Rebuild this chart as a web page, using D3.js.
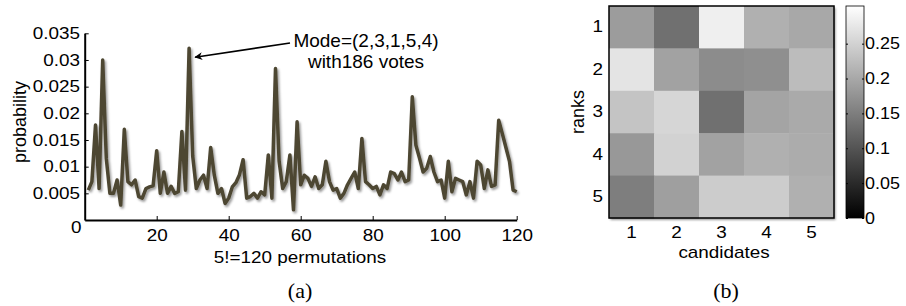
<!DOCTYPE html>
<html>
<head>
<meta charset="utf-8">
<script src="https://cdn.jsdelivr.net/npm/d3@7"></script>
<style>
	body { margin: 0; background: #fff; }
	svg { display: block; font-family: 'Liberation Sans', Arial, sans-serif; }
	.axis text { font-size: 16px; fill: #000; }
	.axis path, .axis line { stroke: #000; }
</style>
</head>
<body>
<div id="chart"></div>
<script>
// (a) probability of each of the 5! = 120 permutations
var permProbs = [
	0.0056, 0.0072, 0.0178, 0.0059, 0.0300, 0.0115, 0.0050, 0.0050, 0.0075, 0.0028,
	0.0170, 0.0072, 0.0066, 0.0075, 0.0044, 0.0041, 0.0059, 0.0062, 0.0064, 0.0130,
	0.0050, 0.0090, 0.0050, 0.0063, 0.0050, 0.0053, 0.0166, 0.0056, 0.0322, 0.0120,
	0.0059, 0.0075, 0.0084, 0.0059, 0.0136, 0.0084, 0.0050, 0.0059, 0.0031, 0.0041,
	0.0062, 0.0070, 0.0085, 0.0113, 0.0041, 0.0044, 0.0050, 0.0041, 0.0053, 0.0047,
	0.0122, 0.0041, 0.0284, 0.0110, 0.0059, 0.0072, 0.0122, 0.0019, 0.0184, 0.0066,
	0.0084, 0.0078, 0.0063, 0.0081, 0.0059, 0.0066, 0.0110, 0.0072, 0.0056, 0.0059,
	0.0041, 0.0050, 0.0066, 0.0078, 0.0090, 0.0059, 0.0153, 0.0072, 0.0066, 0.0059,
	0.0063, 0.0047, 0.0066, 0.0059, 0.0090, 0.0087, 0.0075, 0.0090, 0.0072, 0.0075,
	0.0231, 0.0140, 0.0116, 0.0090, 0.0097, 0.0119, 0.0090, 0.0072, 0.0075, 0.0041,
	0.0110, 0.0053, 0.0078, 0.0075, 0.0072, 0.0047, 0.0072, 0.0041, 0.0110, 0.0103,
	0.0059, 0.0094, 0.0063, 0.0066, 0.0187, 0.0162, 0.0136, 0.0110, 0.0056, 0.0053
]
var xTicks = [0, 20, 40, 60, 80, 100, 120]
var yTicks = [0.005, 0.01, 0.015, 0.02, 0.025, 0.03, 0.035]
var modeIndex = 29
var modeLabel = ['Mode=(2,3,1,5,4)', 'with186 votes']

// (b) rank x candidate probabilities
var ranks = [1, 2, 3, 4, 5]
var candidates = [1, 2, 3, 4, 5]
var rankProbs = [
	[0.186, 0.134, 0.285, 0.210, 0.200],
	[0.272, 0.193, 0.167, 0.170, 0.224],
	[0.234, 0.255, 0.134, 0.196, 0.203],
	[0.181, 0.250, 0.193, 0.210, 0.205],
	[0.150, 0.190, 0.243, 0.243, 0.210]
]
var colorTicks = [0, 0.05, 0.1, 0.15, 0.2, 0.25]

var stretch = 1.18
var serif = "'Liberation Serif', 'DejaVu Serif', serif"

var svg = d3.select('#chart').append('svg')
	.attr('width', 906)
	.attr('height', 306)

var defs = svg.append('defs')
defs.append('filter').attr('id', 'shadow')
	.attr('x', '-5%').attr('y', '-5%').attr('width', '110%').attr('height', '115%')
	.append('feDropShadow')
	.attr('dx', 1.5).attr('dy', 2)
	.attr('stdDeviation', 1.3)
	.attr('flood-color', '#000')
	.attr('flood-opacity', 0.4)

defs.append('marker').attr('id', 'arrow')
	.attr('viewBox', '0 0 10 10')
	.attr('refX', 9).attr('refY', 5)
	.attr('markerWidth', 8).attr('markerHeight', 8)
	.attr('markerUnits', 'userSpaceOnUse')
	.attr('orient', 'auto')
	.append('path')
	.attr('d', 'M0,0L10,5L0,10L3,5Z')
	.attr('fill', '#000')

function label(g, txt, x, y, size, opts) {
	opts = opts || {}
	var t = g.append('text')
		.attr('transform', 'translate(' + x + ',' + y + ')' + (opts.rotate ? ' rotate(-90)' : ' scale(' + (opts.k || stretch) + ',1)'))
		.attr('text-anchor', opts.anchor || 'middle')
		.attr('dominant-baseline', 'central')
		.style('font-size', size + 'px')
		.text(txt)
	if (opts.family) t.style('font-family', opts.family)
	return t
}

// ---------- (a) line chart ----------
var xScale = d3.scaleLinear().domain([0, 120]).range([84.7, 516.7])
var yScale = d3.scaleLinear().domain([0, 0.035]).range([220, 33.3])

var line = d3.line()
	.x(function(d, i) { return xScale(i + 1) })
	.y(function(d) { return yScale(d) })

svg.append('path')
	.datum(permProbs)
	.attr('d', line)
	.attr('fill', 'none')
	.attr('stroke', '#4d4632')
	.attr('stroke-width', 3.5)
	.attr('stroke-linejoin', 'round')
	.attr('filter', 'url(#shadow)')

var yAxis = svg.append('g').attr('class', 'axis')
	.attr('transform', 'translate(' + xScale(0) + ',0)')
	.call(d3.axisLeft(yScale).tickValues(yTicks).tickFormat(d3.format('')).tickSizeInner(-4).tickSizeOuter(0).tickPadding(4))
yAxis.select('.domain').attr('stroke-width', 2)
yAxis.selectAll('text').attr('transform', 'scale(' + stretch + ',1)')

var xAxis = svg.append('g').attr('class', 'axis')
	.attr('transform', 'translate(0,' + yScale(0) + ')')
	.call(d3.axisBottom(xScale).tickValues(xTicks).tickSizeInner(-4).tickSizeOuter(0).tickPadding(10))
xAxis.select('.domain').attr('stroke-width', 2)
xAxis.selectAll('text').attr('transform', function(d) {
	return d === 0 ? 'translate(-9,-8) scale(' + stretch + ',1)' : 'scale(' + stretch + ',1)'
})
xAxis.selectAll('.tick').filter(function(d) { return d === 0 }).select('line').remove()

label(svg, '5!=120 permutations', 300, 258, 16)
label(svg, 'probability', 20, 122, 18, { rotate: true })

// annotation for the mode
var modeX = xScale(modeIndex), modeY = yScale(permProbs[modeIndex - 1])
svg.append('line')
	.attr('x1', 290).attr('y1', 43)
	.attr('x2', modeX + 6).attr('y2', modeY + 9)
	.attr('stroke', '#000')
	.attr('stroke-width', 1.6)
	.attr('marker-end', 'url(#arrow)')
svg.selectAll('.mode-label')
	.data(modeLabel)
	.enter().append('text')
	.attr('class', 'mode-label')
	.attr('x', 366)
	.attr('y', function(d, i) { return 47 + i * 21 })
	.attr('text-anchor', 'middle')
	.style('font-size', '19px')
	.text(function(d) { return d })

label(svg, '(a)', 300, 291, 20, { family: serif, k: 1.1 })

// ---------- (b) heat map ----------
var colScale = d3.scaleBand().domain(candidates).range([609, 834])
var rowScale = d3.scaleBand().domain(ranks).range([6, 218])
var color = d3.scaleLinear().domain([0, 0.304]).range(['#000', '#fff'])

var cells = []
rankProbs.forEach(function(row, r) {
	row.forEach(function(v, c) {
		cells.push({ rank: ranks[r], cand: candidates[c], value: v })
	})
})

svg.append('rect')
	.attr('x', 609).attr('y', 6)
	.attr('width', 225).attr('height', 212)
	.attr('fill', '#fff')
	.attr('filter', 'url(#shadow)')

svg.append('g').selectAll('rect')
	.data(cells)
	.enter().append('rect')
	.attr('x', function(d) { return colScale(d.cand) })
	.attr('y', function(d) { return rowScale(d.rank) })
	.attr('width', colScale.bandwidth() + 0.5)
	.attr('height', rowScale.bandwidth() + 0.5)
	.attr('fill', function(d) { return color(d.value) })

svg.append('rect')
	.attr('x', 609).attr('y', 6)
	.attr('width', 225).attr('height', 212)
	.attr('fill', 'none')
	.attr('stroke', '#000')
	.attr('stroke-width', 1.5)

var rAxis = svg.append('g').attr('class', 'axis')
	.attr('transform', 'translate(609,0)')
	.call(d3.axisLeft(rowScale).tickSize(0).tickPadding(5))
rAxis.select('.domain').remove()
rAxis.selectAll('text').attr('transform', 'scale(' + stretch + ',1)')

var cAxis = svg.append('g').attr('class', 'axis')
	.attr('transform', 'translate(0,218)')
	.call(d3.axisBottom(colScale).tickSize(0).tickPadding(9))
cAxis.select('.domain').remove()
cAxis.selectAll('text').attr('transform', 'scale(' + stretch + ',1)')

label(svg, 'ranks', 578, 112, 18, { rotate: true })
label(svg, 'candidates', 724, 253, 16)
label(svg, '(b)', 726, 291, 20, { family: serif, k: 1.1 })

// colour bar
var cbScale = d3.scaleLinear().domain([0, 0.304]).range([218, 6])
var grad = defs.append('linearGradient').attr('id', 'cbgrad')
	.attr('x1', 0).attr('y1', 1).attr('x2', 0).attr('y2', 0)
grad.append('stop').attr('offset', 0).attr('stop-color', color(0))
grad.append('stop').attr('offset', 1).attr('stop-color', color(0.304))

svg.append('rect')
	.attr('x', 846).attr('y', 6)
	.attr('width', 18).attr('height', 212)
	.attr('fill', 'url(#cbgrad)')
	.attr('stroke', '#000')
	.attr('stroke-width', 0.8)

var cbLeft = svg.append('g').attr('class', 'axis')
	.attr('transform', 'translate(846,0)')
	.call(d3.axisLeft(cbScale).tickValues(colorTicks).tickSizeInner(-2).tickSizeOuter(0).tickFormat(''))
cbLeft.select('.domain').remove()
cbLeft.selectAll('line').attr('stroke', '#555')

var cbRight = svg.append('g').attr('class', 'axis')
	.attr('transform', 'translate(864,0)')
	.call(d3.axisRight(cbScale).tickValues(colorTicks).tickFormat(d3.format('')).tickSizeInner(-2).tickSizeOuter(0).tickPadding(1))
cbRight.select('.domain').remove()
cbRight.selectAll('line').attr('stroke', '#555')
cbRight.selectAll('text').attr('transform', 'scale(1.12,1)')
</script>
</body>
</html>
